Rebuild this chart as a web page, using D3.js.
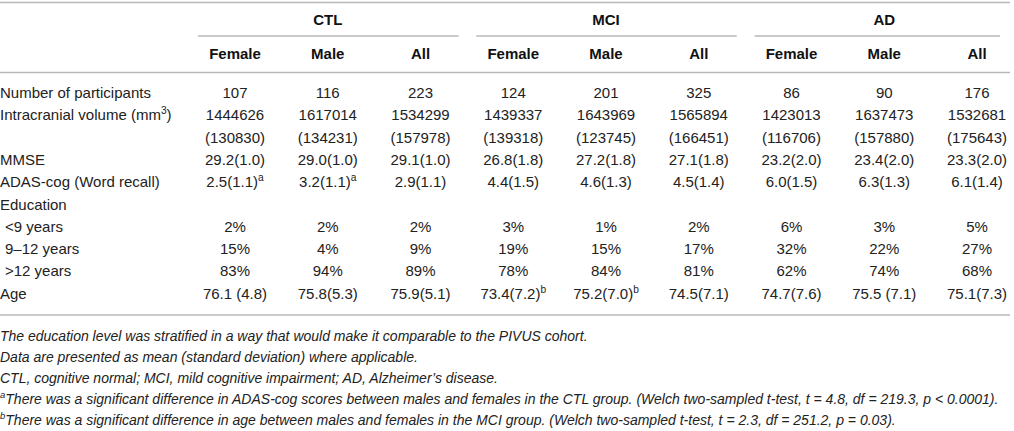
<!DOCTYPE html>
<html>
<head>
<meta charset="utf-8">
<script src="https://cdn.jsdelivr.net/npm/d3@7"></script>
<style>
  body { margin: 0; background: #fff; }
  svg { display: block; font-family: "Liberation Sans", Arial, sans-serif; }
</style>
</head>
<body>
<div id="tablica"></div>
<script>
// podaci tablice
const grupe = ["CTL", "MCI", "AD"];
const podstupci = ["Female", "Male", "All"];

const oznakeRedova = [
    "Number of participants",
    "Intracranial volume (mm^3)",
    "",
    "MMSE",
    "ADAS-cog (Word recall)",
    "Education",
    " <9 years",
    " 9–12 years",
    " >12 years",
    "Age"
];
const uvuceni = [false, false, false, false, false, false, true, true, true, false];

const brojSudionika = ["107", "116", "223", "124", "201", "325", "86", "90", "176"];
const volumen = ["1444626", "1617014", "1534299", "1439337", "1643969", "1565894", "1423013", "1637473", "1532681"];
const volumenSd = ["(130830)", "(134231)", "(157978)", "(139318)", "(123745)", "(166451)", "(116706)", "(157880)", "(175643)"];
const mmse = ["29.2(1.0)", "29.0(1.0)", "29.1(1.0)", "26.8(1.8)", "27.2(1.8)", "27.1(1.8)", "23.2(2.0)", "23.4(2.0)", "23.3(2.0)"];
const adasCog = ["2.5(1.1)^a", "3.2(1.1)^a", "2.9(1.1)", "4.4(1.5)", "4.6(1.3)", "4.5(1.4)", "6.0(1.5)", "6.3(1.3)", "6.1(1.4)"];
const edukacija = ["", "", "", "", "", "", "", "", ""];
const manjeOd9 = ["2%", "2%", "2%", "3%", "1%", "2%", "6%", "3%", "5%"];
const od9do12 = ["15%", "4%", "9%", "19%", "15%", "17%", "32%", "22%", "27%"];
const viseOd12 = ["83%", "94%", "89%", "78%", "84%", "81%", "62%", "74%", "68%"];
const dob = ["76.1 (4.8)", "75.8(5.3)", "75.9(5.1)", "73.4(7.2)^b", "75.2(7.0)^b", "74.5(7.1)", "74.7(7.6)", "75.5 (7.1)", "75.1(7.3)"];

const vrijednosti = [brojSudionika, volumen, volumenSd, mmse, adasCog, edukacija, manjeOd9, od9do12, viseOd12, dob];

const biljeske = [
    "The education level was stratified in a way that would make it comparable to the PIVUS cohort.",
    "Data are presented as mean (standard deviation) where applicable.",
    "CTL, cognitive normal; MCI, mild cognitive impairment; AD, Alzheimer’s disease.",
    "^aThere was a significant difference in ADAS-cog scores between males and females in the CTL group. (Welch two-sampled t-test, t = 4.8, df = 219.3, p < 0.0001).",
    "^bThere was a significant difference in age between males and females in the MCI group. (Welch two-sampled t-test, t = 2.3, df = 251.2, p = 0.03)."
];

function drawTable() {

    const dimenzije = { sirina: 1014, visina: 431 };

    const okvir = d3.select("#tablica")
        .append("svg")
        .attr("width", dimenzije.sirina)
        .attr("height", dimenzije.visina);

    // stupci i redovi
    const stupci = d3.range(grupe.length * podstupci.length);
    const xScale = d3.scalePoint()
        .domain(stupci)
        .range([235, 977]);

    const yScale = d3.scalePoint()
        .domain(d3.range(oznakeRedova.length))
        .range([93, 293.7]);

    const boja = "#222";
    const bojaLinije = "#b8b8b8";

    // tekst sa superskriptom (oznaka "^x"), dy se vraca na sljedecem dijelu
    function upisi(sel, tekst, velicina) {
        const dijelovi = tekst.split(/\^(\w)/);
        let povrat = 0;
        dijelovi.forEach((d, i) => {
            if (d === "") return;
            if (i % 2 === 1) {
                sel.append("tspan")
                    .attr("dy", -velicina * 0.4)
                    .attr("font-size", velicina * 0.68)
                    .text(d);
                povrat = velicina * 0.4;
            } else {
                sel.append("tspan")
                    .attr("dy", povrat)
                    .text(d);
                povrat = 0;
            }
        });
    }

    // vodoravne linije
    [2.5, 72.5, 315].forEach(y => {
        okvir.append("line")
            .attr("x1", 0).attr("x2", 1010)
            .attr("y1", y).attr("y2", y)
            .attr("stroke", bojaLinije)
            .attr("stroke-width", 1.6);
    });

    // zaglavlje grupa
    grupe.forEach((g, gi) => {
        const prvi = xScale(gi * 3);
        const zadnji = xScale(gi * 3 + 2);
        okvir.append("text")
            .attr("x", (prvi + zadnji) / 2)
            .attr("y", 20)
            .attr("dy", "0.35em")
            .attr("text-anchor", "middle")
            .attr("font-size", 15)
            .attr("font-weight", "bold")
            .attr("fill", "#111")
            .text(g);
        okvir.append("line")
            .attr("x1", prvi - 37)
            .attr("x2", Math.min(zadnji + 38, 1000))
            .attr("y1", 36).attr("y2", 36)
            .attr("stroke", bojaLinije)
            .attr("stroke-width", 1.6);
    });

    okvir.selectAll(".podstupac")
        .data(stupci)
        .enter().append("text")
            .attr("class", "podstupac")
            .attr("x", d => xScale(d))
            .attr("y", 54)
            .attr("dy", "0.35em")
            .attr("text-anchor", "middle")
            .attr("font-size", 15)
            .attr("font-weight", "bold")
            .attr("fill", "#111")
            .text(d => podstupci[d % 3]);

    // oznake redova
    oznakeRedova.forEach((o, ri) => {
        const t = okvir.append("text")
            .attr("x", uvuceni[ri] ? 5 : 0)
            .attr("y", yScale(ri) + 5)
            .attr("font-size", 15)
            .attr("fill", boja);
        upisi(t, o.trim(), 15);
    });

    // vrijednosti
    vrijednosti.forEach((red, ri) => {
        red.forEach((v, ci) => {
            if (v === "") return;
            const t = okvir.append("text")
                .attr("x", xScale(ci))
                .attr("y", yScale(ri) + 5)
                .attr("text-anchor", "middle")
                .attr("font-size", 15)
                .attr("fill", boja);
            upisi(t, v, 15);
        });
    });

    // biljeske
    biljeske.forEach((b, i) => {
        const t = okvir.append("text")
            .attr("x", 0)
            .attr("y", 336 + i * 21 + 5)
            .attr("font-size", 14)
            .attr("font-style", "italic")
            .attr("fill", boja);
        upisi(t, b, 14);
    });
}

drawTable();
</script>
</body>
</html>
